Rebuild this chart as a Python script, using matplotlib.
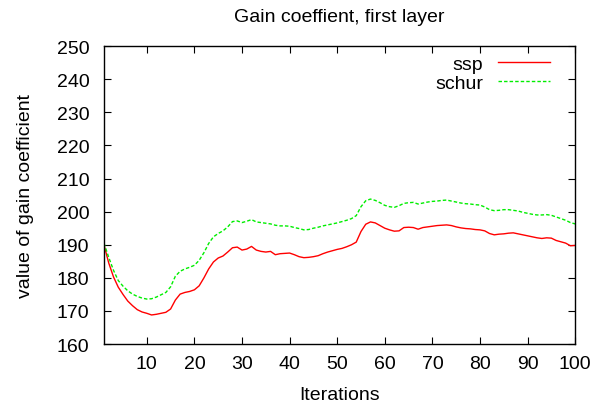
import numpy as np
import matplotlib
matplotlib.use("Agg")
from matplotlib import pyplot as plt

iterations = np.arange(1, 101)

ssp = [
    190.0, 184.5, 180.3, 177.2, 175.0, 173.0, 171.6, 170.4, 169.7, 169.3,
    168.8, 169.0, 169.3, 169.6, 170.6, 173.3, 175.1, 175.6, 175.9, 176.4,
    177.6, 180.0, 182.7, 184.8, 186.0, 186.6, 187.8, 189.1, 189.3, 188.4,
    188.7, 189.5, 188.4, 188.0, 187.8, 188.0, 187.0, 187.3, 187.4, 187.5,
    187.0, 186.4, 186.1, 186.2, 186.4, 186.7, 187.3, 187.8, 188.2, 188.6,
    188.9, 189.4, 190.0, 190.8, 194.0, 196.2, 196.9, 196.6, 195.8, 195.0,
    194.5, 194.1, 194.2, 195.2, 195.3, 195.2, 194.7, 195.2, 195.4, 195.6,
    195.8, 195.9, 196.0, 195.8, 195.4, 195.1, 194.9, 194.8, 194.6, 194.5,
    194.2, 193.4, 193.0, 193.2, 193.3, 193.5, 193.6, 193.3, 193.0, 192.7,
    192.4, 192.1, 191.9, 192.1, 192.0, 191.3, 190.9, 190.5, 189.7, 189.8,
]

schur = [
    190.5, 186.2, 182.3, 179.2, 177.5, 176.1, 175.1, 174.4, 173.9, 173.6,
    173.7, 174.2, 174.9, 175.6, 177.3, 180.5, 182.0, 182.7, 183.2, 183.8,
    185.3, 187.6, 190.4, 192.4, 193.4, 194.2, 195.4, 197.0, 197.2, 196.7,
    197.1, 197.6, 196.9, 196.7, 196.5, 196.3, 195.9, 195.7, 195.7, 195.6,
    195.2, 194.9, 194.5, 194.6, 195.0, 195.3, 195.7, 196.0, 196.3, 196.6,
    197.0, 197.4, 197.9, 198.8, 201.5, 203.3, 203.8, 203.4, 202.7, 201.9,
    201.5, 201.3, 201.8, 202.5, 202.7, 202.8, 202.3, 202.6, 202.9, 203.1,
    203.2, 203.4, 203.5, 203.2, 202.9, 202.6, 202.4, 202.3, 202.1, 202.0,
    201.4, 200.6, 200.3, 200.4, 200.6, 200.6, 200.4, 200.2, 199.8, 199.5,
    199.2, 199.0, 199.0, 199.1, 198.9, 198.4, 197.9, 197.4, 196.7, 196.3,
]

x_ticks = list(range(10, 101, 10))
y_ticks = list(range(160, 251, 10))

plt.rcParams["font.family"] = ["Liberation Sans", "DejaVu Sans"]

fig = plt.figure(figsize=(6.08, 4.06), dpi=100)
ax = fig.add_axes([0.171, 0.150, 0.775, 0.734])

ax.plot(iterations, ssp, color="#ff0000", lw=1.0, label="ssp")
ax.plot(iterations, schur, color="#00ee00", lw=1.0, dashes=(2.5, 1.5), label="schur")

ax.set_xlim(1, 100)
ax.set_ylim(160, 250)
ax.set_xticks(x_ticks)
ax.set_yticks(y_ticks)
ax.tick_params(direction="in", top=True, right=True, length=5, width=0.8,
               labelsize=14)
ax.tick_params(axis="y", pad=10.5)
ax.tick_params(axis="x", pad=8)
for s in ax.spines.values():
    s.set_linewidth(1.0)

ax.set_title("Gain coeffient, first layer", fontsize=14, pad=18)
ax.set_xlabel("Iterations", fontsize=14, labelpad=10)
ax.set_ylabel("value of gain coefficient", fontsize=14, labelpad=16)

ax.legend(loc="upper right", frameon=False, markerfirst=False, fontsize=14,
          handlelength=2.7, handletextpad=0.75, labelspacing=0.1,
          borderpad=0, borderaxespad=0, bbox_to_anchor=(0.947, 0.97))
leg = ax.get_legend()
for t in leg.get_texts():
    t.set_ha("right")

fig.savefig("out.png", dpi=100)
